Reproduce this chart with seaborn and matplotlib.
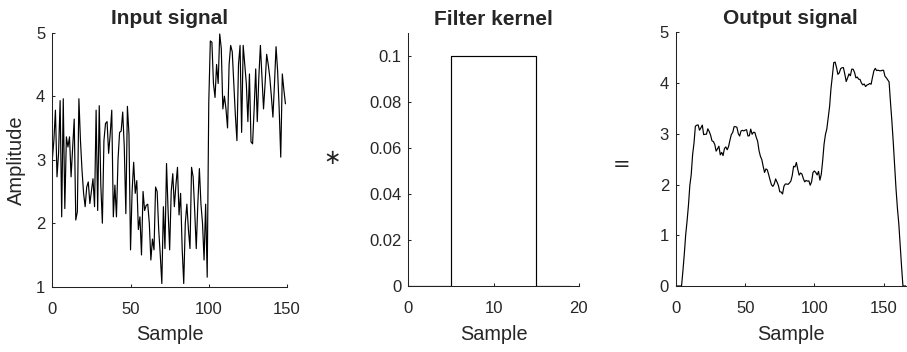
import numpy as np
import pandas as pd
import matplotlib
matplotlib.use("Agg")
import matplotlib.pyplot as plt
import seaborn as sns

# ---- data ----
input_signal = [
    3.0, 3.3, 3.78, 2.73, 3.1, 3.93, 2.1, 3.96, 2.23, 3.36,
    3.2, 3.36, 2.73, 3.2, 3.64, 2.05, 2.18, 3.96, 3.3, 2.83,
    2.47, 2.26, 2.57, 2.65, 2.31, 2.5, 2.7, 2.26, 3.78, 2.2,
    3.85, 2.6, 2.0, 3.3, 3.57, 3.6, 3.1, 3.4, 3.78, 2.1,
    2.6, 2.1, 3.0, 3.43, 3.45, 3.75, 3.2, 2.15, 3.84, 3.4,
    1.58, 2.5, 2.96, 2.47, 2.67, 1.9, 2.1, 1.5, 2.5, 2.2,
    2.28, 2.3, 2.0, 1.42, 1.75, 1.58, 2.57, 2.5, 1.9, 1.5,
    1.05, 2.26, 1.6, 2.94, 2.2, 1.58, 2.5, 2.78, 2.26, 2.6,
    2.88, 2.13, 2.47, 1.6, 1.05, 2.0, 2.3, 1.9, 1.6, 2.88,
    2.73, 2.2, 1.6, 2.3, 2.86, 2.3, 2.0, 1.42, 2.3, 1.15,
    3.9, 4.87, 4.85, 4.2, 3.98, 4.5, 4.2, 4.98, 4.75, 3.8,
    4.0, 3.8, 3.5, 4.5, 4.8, 4.7, 4.2, 3.7, 3.3, 4.5,
    4.8, 3.43, 4.8, 4.5, 4.2, 3.6, 4.35, 3.28, 3.25, 3.8,
    4.43, 3.6, 4.3, 4.8, 4.3, 3.8, 4.2, 4.66, 4.5, 4.3,
    4.0, 3.67, 4.2, 4.78, 4.4, 3.8, 3.04, 4.35, 4.1, 3.88,
]
kernel_values = [0, 0, 0, 0, 0, 0.1, 0.1, 0.1, 0.1, 0.1,
                 0.1, 0.1, 0.1, 0.1, 0.1, 0, 0, 0, 0, 0]
output_signal = np.convolve(input_signal, kernel_values)

titles = ["Input signal", "Filter kernel", "Output signal"]
input_xticks = [0, 50, 100, 150]
input_yticks = [1, 2, 3, 4, 5]
kernel_xticks = [0, 10, 20]
kernel_yticks = [0, 0.02, 0.04, 0.06, 0.08, 0.1]
kernel_yticklabels = ["0", "0.02", "0.04", "0.06", "0.08", "0.1"]
output_xticks = [0, 50, 100, 150]
output_yticks = [0, 1, 2, 3, 4, 5]

df_in = pd.DataFrame({"Sample": np.arange(len(input_signal)), "Amplitude": input_signal})
df_k = pd.DataFrame({"Sample": np.arange(len(kernel_values)), "Amplitude": kernel_values})
df_out = pd.DataFrame({"Sample": np.arange(len(output_signal)), "Amplitude": output_signal})

# ---- style ----
sns.set_style("ticks", {"xtick.direction": "in", "ytick.direction": "in"})
plt.rcParams["font.family"] = ["Liberation Sans", "DejaVu Sans"]
plt.rcParams["axes.linewidth"] = 0.75
plt.rcParams["xtick.major.width"] = 0.75
plt.rcParams["ytick.major.width"] = 0.75
plt.rcParams["xtick.major.size"] = 2.5
plt.rcParams["ytick.major.size"] = 2.5
plt.rcParams["axes.edgecolor"] = "#222222"

W, H = 907, 352
fig = plt.figure(figsize=(W / 100, H / 100), dpi=100)


def px_axes(left, right, top, bottom):
    return fig.add_axes([left / W, (H - bottom) / H, (right - left) / W, (bottom - top) / H])


ax1 = px_axes(52.3, 287.0, 32.7, 286.7)
ax2 = px_axes(408.3, 578.7, 33.3, 286.0)
ax3 = px_axes(676.0, 905.7, 32.3, 286.0)

lw = 0.85
sns.lineplot(data=df_in, x="Sample", y="Amplitude", ax=ax1, color="black",
             linewidth=lw, estimator=None)
sns.lineplot(data=df_k, x="Sample", y="Amplitude", ax=ax2, color="black",
             linewidth=lw, estimator=None, drawstyle="steps-post")
sns.lineplot(data=df_out, x="Sample", y="Amplitude", ax=ax3, color="black",
             linewidth=lw, estimator=None)

ax1.set_xlim(0, 150)
ax1.set_ylim(1, 5)
ax1.set_xticks(input_xticks)
ax1.set_yticks(input_yticks)
ax1.set_ylabel("Amplitude", fontsize=14.5, labelpad=7)

ax2.set_xlim(0, 20)
ax2.set_ylim(0, 0.11)
ax2.set_xticks(kernel_xticks)
ax2.set_yticks(kernel_yticks)
ax2.set_yticklabels(kernel_yticklabels)
ax2.set_ylabel("")

ax3.set_xlim(0, 166)
ax3.set_ylim(0, 5)
ax3.set_xticks(output_xticks)
ax3.set_yticks(output_yticks)
ax3.set_ylabel("")

for ax, t in zip([ax1, ax2, ax3], titles):
    ax.set_title(t, fontsize=15, fontweight="bold", pad=6)
    ax.set_xlabel("Sample", fontsize=14.3, labelpad=6)
    ax.tick_params(axis="x", labelsize=12, pad=11)
    ax.tick_params(axis="y", labelsize=12, pad=5)
    sns.despine(ax=ax)

fig.text(331.7 / W, 1 - 158 / H, "\u2217", fontsize=15, ha="center", va="center",
         family=["DejaVu Sans"])
fig.text(621.7 / W, 1 - 165 / H, "=", fontsize=15, ha="center", va="center",
         family=["DejaVu Sans"], rotation=0)

fig.savefig("out.png", dpi=100)
